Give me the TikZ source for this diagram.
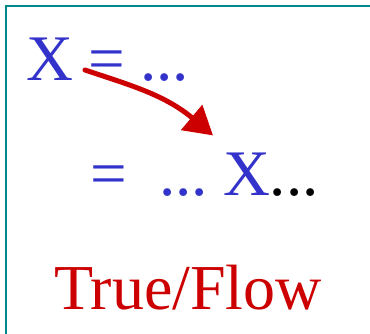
\documentclass[tikz,border=0pt]{standalone}
\usepackage{fontspec}
\setmainfont{Liberation Serif}
\usetikzlibrary{arrows.meta,calc}
\definecolor{varblue}{RGB}{51,51,204}
\definecolor{flowred}{RGB}{204,0,0}
\definecolor{frameteal}{RGB}{0,136,136}
\begin{document}
\begin{tikzpicture}[x=1pt,y=1pt,
  txt/.style={inner sep=0pt,outer sep=0pt,anchor=base west,font=\fontsize{65}{78}\selectfont},
  bluetxt/.style={txt,text=varblue},
  blacktxt/.style={txt,text=black},
  flowarrow/.style={draw=flowred,line width=5pt,line cap=round,-{Triangle[length=28pt,width=32pt]}}]
\useasboundingbox (0,0) rectangle (370,333);
\clip (0,0) rectangle (370,333);
\fill[white] (0,0) rectangle (370,333);
\draw[frameteal,line width=2pt] (6,-20) -- (6,327) -- (390,327);
% line 1
\node[bluetxt] (x1) at (27,253) {X};
\node[bluetxt] (eq1) at (88,253) {=};
\node[bluetxt] (d1) at (140,253) {...};
% line 2
\node[bluetxt] (eq2) at (90,138) {=};
\node[bluetxt] (d2) at (159,138) {...};
\node[bluetxt] (x2) at (223,138) {X};
\node[blacktxt] (d3) at (x2.base east) {...};
% label
\node[txt,text=flowred,font=\fontsize{64}{76}\selectfont] (lab) at (54,24) {True/Flow};
% arrow
\coordinate (s) at ($(x1.base east)+(11,10)$);
\coordinate (t) at ($(x2.north west)+(-10,17)$);
\draw[flowarrow] (s) .. controls (130,248) and (165,238) .. (t);
\end{tikzpicture}
\end{document}
